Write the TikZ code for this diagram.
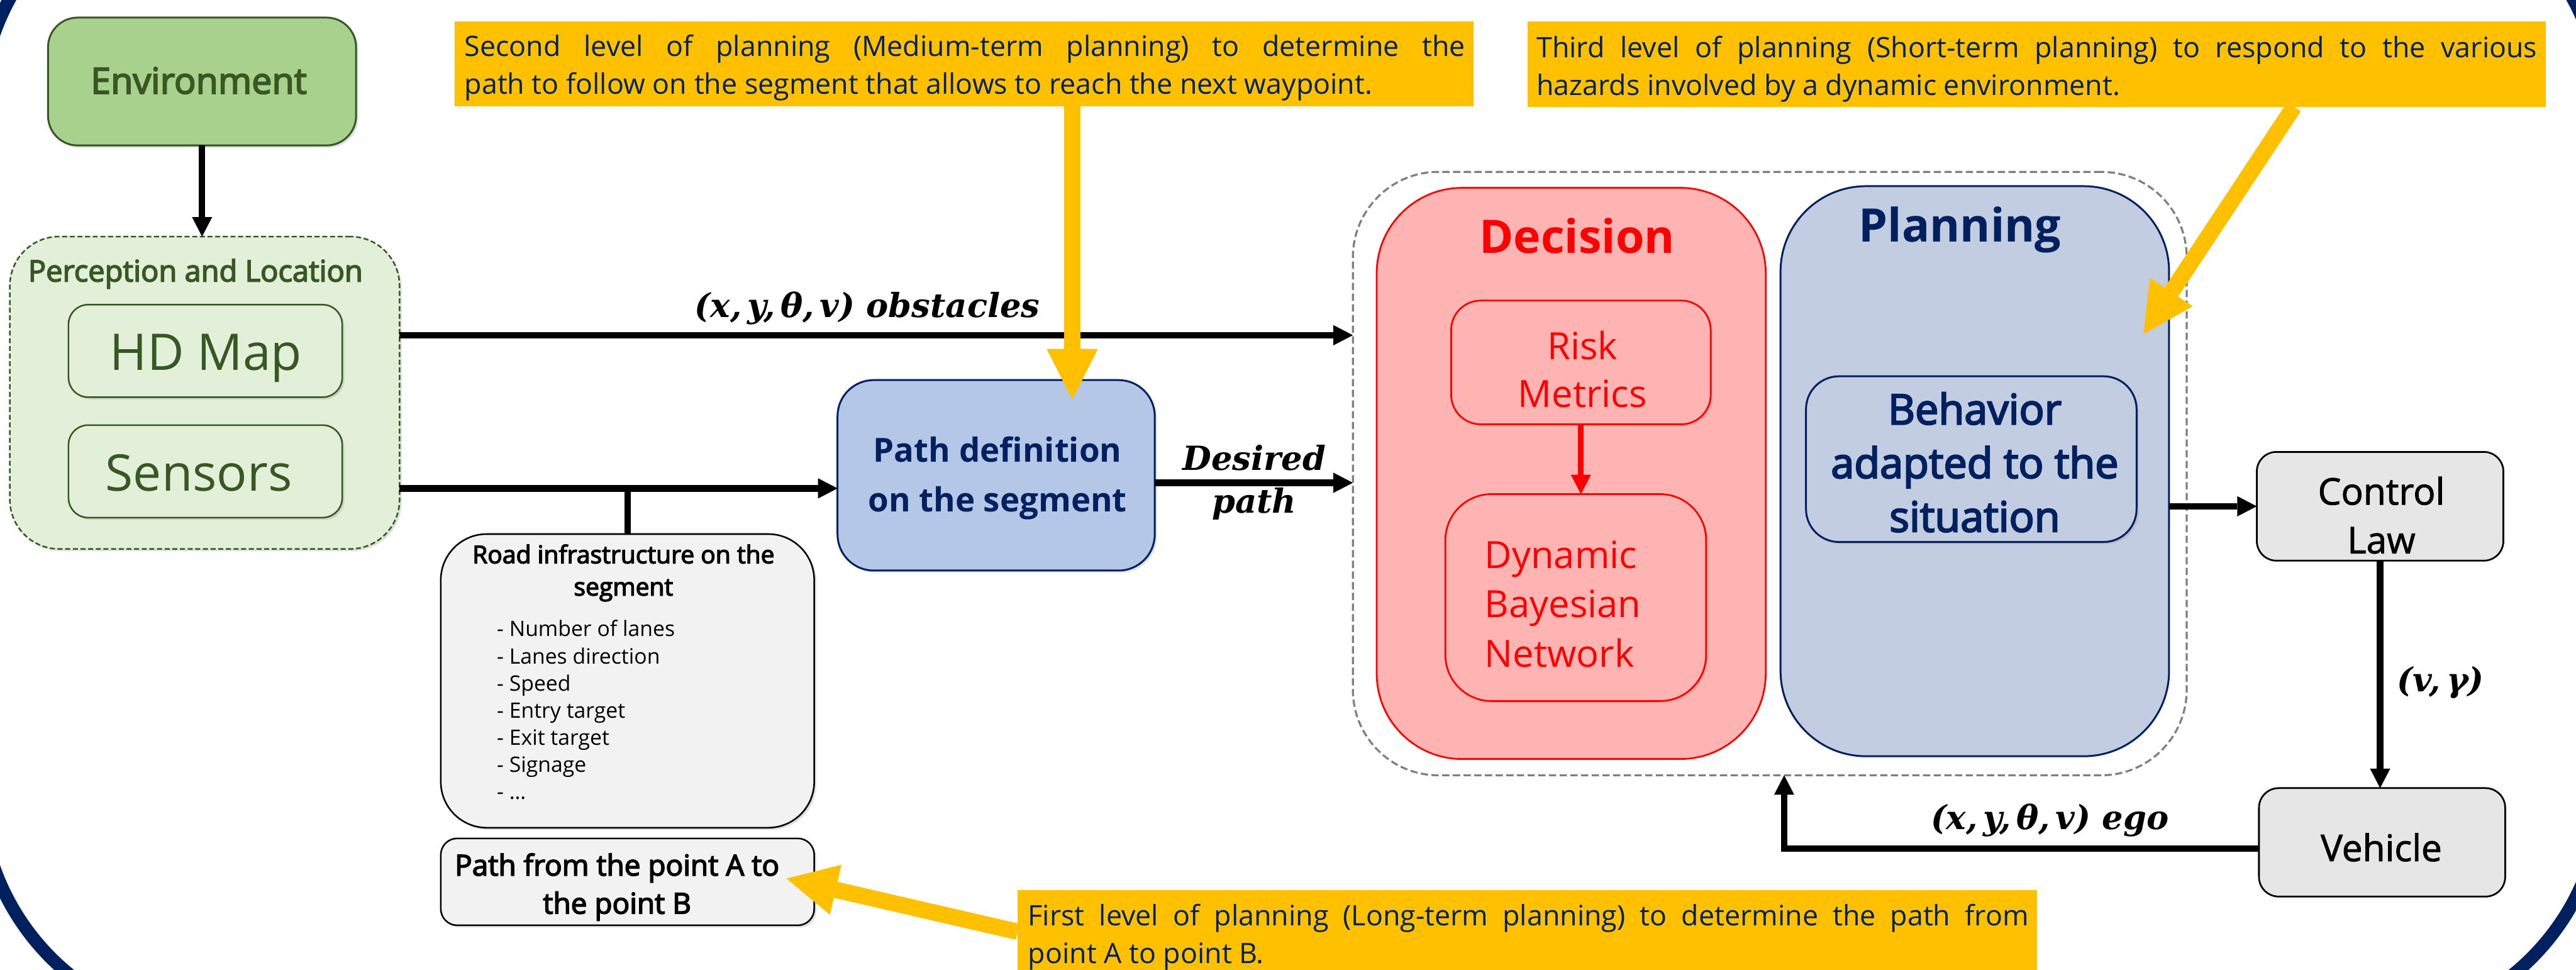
\documentclass[tikz,border=0pt]{standalone}
\usepackage{fontspec}
\setmainfont{Open Sans}
\newfontfamily\semib{Open Sans}[FakeBold=3.5]
\newfontfamily\medf{Open Sans}[FakeBold=1.5]
\newfontfamily\lblfont{DejaVu Serif}
\usetikzlibrary{arrows.meta,shadows}
\newcommand\uu{0.04cm}
\newcommand\mlc[1]{\begin{tabular}[t]{@{}c@{}}#1\end{tabular}}
\newcommand\mll[1]{\begin{tabular}[t]{@{}l@{}}#1\end{tabular}}
\definecolor{navy}{HTML}{002060}
\definecolor{gold}{HTML}{FFC000}
\definecolor{envfill}{HTML}{A9D18E}
\definecolor{dkgreen}{HTML}{385723}
\definecolor{ltgreen}{HTML}{E2F0D9}
\definecolor{pathblue}{HTML}{B4C7E7}
\definecolor{planfill}{HTML}{C3CDE1}
\definecolor{decfill}{HTML}{FFB4B4}
\definecolor{grayfill}{HTML}{E6E6E6}
\definecolor{roadfill}{HTML}{F2F2F2}
\definecolor{dashgray}{HTML}{7F7F7F}
\tikzset{
  every node/.style={inner sep=0pt, outer sep=0pt},
  sz/.style 2 args={minimum width=#1*\uu, minimum height=#2*\uu},
  mysh/.style={drop shadow={shadow xshift=1.5pt,shadow yshift=-1.5pt,opacity=0.25}},
  envbox/.style={fill=envfill, draw=dkgreen, line width=1.3pt, mysh},
  percbox/.style={fill=ltgreen, draw=dkgreen, line width=1.1pt, dash pattern=on 3.5pt off 1.8pt, mysh},
  hdbox/.style={fill=ltgreen, draw=dkgreen, line width=1.1pt, mysh},
  pdbox/.style={fill=pathblue, draw=navy, line width=1.3pt, mysh},
  roadbox/.style={fill=roadfill, draw=black, line width=1.1pt, mysh},
  dashbox/.style={fill=white, draw=dashgray, line width=1.4pt, dash pattern=on 5pt off 2.4pt},
  decbox/.style={fill=decfill, draw=red, line width=1.2pt},
  planbox/.style={fill=planfill, draw=navy, line width=1.3pt},
  graybox/.style={fill=grayfill, draw=black, line width=1.2pt},
  callbox/.style={fill=gold},
  arr/.style={line width=4.5pt, -{Triangle[length=13.5pt,width=14pt,line width=0pt]}},
  conn/.style={line width=4.5pt},
  redarr/.style={red, line width=4pt, -{Triangle[length=13.5pt,width=14pt,line width=0pt]}},
  yarr/.style={gold, line width=11.3pt, -{Triangle[length=35pt,width=35.5pt,line width=0pt]}},
  calltxt/.style={anchor=base west, font=\fontsize{19.5}{26.1}\selectfont, text=navy},
  mathlbl/.style={anchor=base, font=\lblfont\bfseries\itshape\fontsize{23}{29.9}\selectfont},
}
\begin{document}
\begin{tikzpicture}[x=\uu, y=-\uu]
\useasboundingbox (0,0) rectangle (1568,590);
% outer navy frame
\draw[navy, line width=9pt, rounded corners=147*\uu] (-12,-77.5) rectangle (1584,626);

% Environment
\node[envbox, sz={187.5}{77.8}, rounded corners=18*\uu] (env) at (123,49.6) {};
\node[anchor=base, font=\semib\fontsize{25}{30}\selectfont, text=dkgreen] (envt) at (121,57) {Environment};

% Perception and Location
\node[percbox, sz={237.2}{190.1}, rounded corners=30*\uu] (perc) at (124.6,239) {};
\node[anchor=base, font=\semib\fontsize{20.5}{24}\selectfont, text=dkgreen] (perct) at (119,171.3) {Perception and Location};
\node[hdbox, sz={166.6}{56.3}, rounded corners=12*\uu] (hd) at (125,213.55) {};
\node[anchor=base, font=\fontsize{35}{40}\selectfont, text=dkgreen] (hdt) at (125.4,225.4) {HD Map};
\node[hdbox, sz={166.6}{56.3}, rounded corners=12*\uu] (sens) at (125,286.85) {};
\node[anchor=base, font=\fontsize{35}{40}\selectfont, text=dkgreen] (senst) at (121,298.7) {Sensors};

% Path definition
\node[pdbox, sz={193.1}{115.9}, rounded corners=22*\uu] (pd) at (606.35,289.25) {};
\node[anchor=base, font=\bfseries\fontsize{23}{34.3}\selectfont, text=navy] (pdt) at (607.2,281.3) {\mlc{Path definition\\on the segment}};

% Road infrastructure
\node[roadbox, sz={227.3}{178.7}, rounded corners=28*\uu] (road) at (381.95,414.35) {};
\node[anchor=base, font=\semib\fontsize{17}{22.3}\selectfont] (roadt) at (379.5,342.8) {\mlc{Road infrastructure on the\\segment}};
\node[anchor=base west, font=\fontsize{14.7}{18.8}\selectfont] (roadl) at (302.5,387.4) {\mll{- Number of lanes\\- Lanes direction\\- Speed\\- Entry target\\- Exit target\\- Signage\\- …}};

% Path from A to B
\node[roadbox, sz={227.3}{52.9}, rounded corners=10*\uu] (pab) at (381.95,536.65) {};
\node[anchor=base, font=\semib\fontsize{20}{26.4}\selectfont] (pabt) at (375.6,532.8) {\mlc{Path from the point A to\\the point B}};

% Decision / Planning container
\node[dashbox, sz={507.5}{367.2}, rounded corners=52*\uu] (dash) at (1077.25,288.2) {};
\node[decbox, sz={236.8}{347.6}, rounded corners=52*\uu] (dec) at (956.4,288.1) {};
\node[anchor=base, font=\bfseries\fontsize{32}{38}\selectfont, text=red] (dect) at (960,154) {Decision};
\node[decbox, mysh, sz={158}{75.3}, rounded corners=18*\uu] (risk) at (962.3,220.55) {};
\node[anchor=base, font=\fontsize{26}{33.1}\selectfont, text=red] (riskt) at (963.2,218.7) {\mlc{Risk\\Metrics}};
\node[decbox, mysh, sz={158.7}{125.9}, rounded corners=28*\uu] (dbn) at (959.15,363.65) {};
\node[anchor=base west, font=\fontsize{26}{34.2}\selectfont, text=red] (dbnt) at (903.7,345.8) {\mll{Dynamic\\Bayesian\\Network}};

\node[planbox, sz={236.5}{346.9}, rounded corners=52*\uu] (plan) at (1202.05,286.75) {};
\node[anchor=base, font=\bfseries\fontsize{32}{38}\selectfont, text=navy] (plant) at (1193,147.1) {Planning};
\node[planbox, mysh, sz={201.2}{100.8}, rounded corners=20*\uu] (beh) at (1199.9,279.4) {};
\node[anchor=base, font=\semib\fontsize{29}{37.2}\selectfont, text=navy] (beht) at (1202,258.2) {\mlc{Behavior\\adapted to the\\situation}};

% Control law and vehicle
\node[graybox, sz={150.1}{66.2}, rounded corners=12*\uu] (ctrl) at (1448.75,308.1) {};
\node[anchor=base, font=\medf\fontsize{25.5}{33.7}\selectfont] (ctrlt) at (1449.5,307.1) {\mlc{Control\\Law}};
\node[graybox, sz={149.9}{66}, rounded corners=12*\uu] (veh) at (1449.95,512.6) {};
\node[anchor=base, font=\medf\fontsize{25.5}{30}\selectfont] (veht) at (1449.5,524.05) {Vehicle};

% connector labels
\node[mathlbl] (obsl) at (528,193.1) {(x,\,y,\,θ,\,v) obstacles};
\node[mathlbl] (desl) at (763.4,286) {\mlc{Desired\\path}};
\node[mathlbl] (egol) at (1247.7,504.7) {(x,\,y,\,θ,\,v) ego};
\node[mathlbl] (vgl) at (1485.6,420.9) {(v,\,γ)};

% helper coordinates
\coordinate (yobs) at (0,204);
\coordinate (ysens) at (0,297.2);
\coordinate (ydes) at (0,293.8);
\coordinate (yfb) at (0,516.3);
\coordinate (xfb) at (1086,0);

% black connectors
\draw[arr] (env.south) -- (env.south |- perc.north);
\draw[arr] (perc.east |- yobs) -- (dash.west |- yobs);
\draw[arr] (perc.east |- ysens) -- (pd.west |- ysens);
\draw[conn] (road.north) -- (road.north |- ysens);
\draw[arr] (pd.east |- ydes) -- (dash.west |- ydes);
\draw[arr] (plan.east |- ctrl.west) -- (ctrl.west);
\draw[arr] (ctrl.south) -- (ctrl.south |- veh.north);
\draw[arr] (veh.west |- yfb) -- (xfb |- yfb) -- (xfb |- dash.south);
\draw[redarr] (risk.south) -- (risk.south |- dbn.north);

% callouts
\node[callbox, sz={620.2}{51.8}] (call2) at (586.7,38.8) {};
\node[calltxt] (call2t) at (282.8,34.4) {\mll{\makebox[693pt][s]{Second level of planning (Medium-term planning) to determine the}\\path to follow on the segment that allows to reach the next waypoint.}};
\node[callbox, sz={619.8}{51.8}] (call3) at (1239.7,39.1) {};
\node[calltxt] (call3t) at (935.3,34.9) {\mll{\makebox[693pt][s]{Third level of planning (Short-term planning) to respond to the various}\\hazards involved by a dynamic environment.}};
\node[callbox, sz={620.6}{51.8}] (call1) at (929.7,567.7) {};
\node[calltxt] (call1t) at (625.8,563.4) {\mll{\makebox[693pt][s]{First level of planning (Long-term planning) to determine the path from}\\point A to point B.}};

% yellow pointers
\coordinate (t2) at (652.7,243.1);
\coordinate (s3x) at (1396.3,0);
\coordinate (t3) at (1304.7,203.4);
\coordinate (s1y) at (0,567);
\coordinate (t1) at (478.7,534.6);
\draw[yarr] (call2.south -| t2) -- (t2);
\draw[yarr] (call3.south -| s3x) -- (t3);
\draw[yarr] (call1.west |- s1y) -- (t1);
\end{tikzpicture}
\end{document}
